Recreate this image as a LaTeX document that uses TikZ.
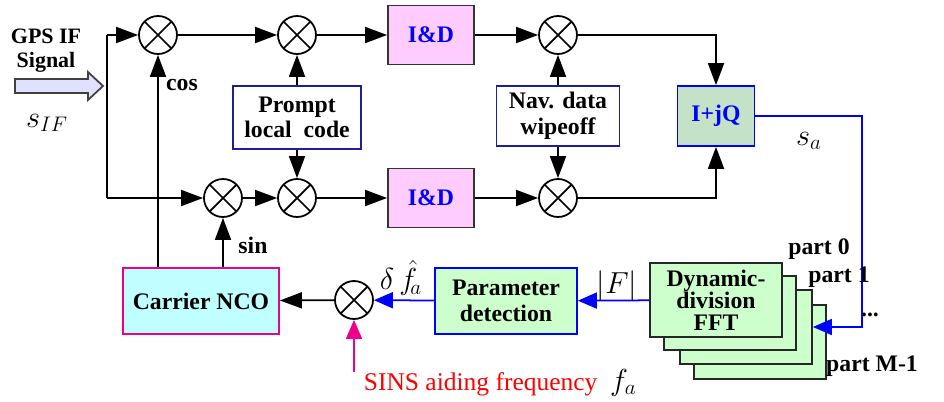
\documentclass[tikz,border=0pt]{standalone}
\usepackage{fontspec}
\setmainfont{Liberation Serif}
\usetikzlibrary{arrows.meta, calc}

\definecolor{idfill}{HTML}{FFCCFF}
\definecolor{iqfill}{HTML}{C4E2C8}
\definecolor{fftfill}{HTML}{CCFFCC}
\definecolor{ncofill}{HTML}{C0FFFF}
\definecolor{gpsfill}{HTML}{E0E0FF}
\definecolor{navyline}{HTML}{1E1E96}
\definecolor{blueline}{HTML}{0000FF}
\newcommand\blksize{\fontsize{13.5}{14.5}\selectfont}

\begin{document}
\begin{tikzpicture}[
    line width=1pt,
    arr/.style={-{Triangle[length=0.44cm,width=0.32cm]}},
    bluearr/.style={blueline,-{Triangle[length=0.38cm,width=0.32cm]}},
    pinkarr/.style={magenta,-{Triangle[length=0.38cm,width=0.32cm]}},
    mixer/.style={draw,circle,minimum size=0.76cm,inner sep=0pt,
        path picture={\draw (path picture bounding box.north west)--(path picture bounding box.south east)
                            (path picture bounding box.north east)--(path picture bounding box.south west);}},
    blk/.style={draw,align=center,font=\blksize\bfseries,inner sep=1pt},
    idbox/.style={blk,fill=idfill,draw=black!80,text=blueline,minimum width=1.72cm,minimum height=1.18cm},
    codebox/.style={blk,fill=white,draw=navyline},
    iqbox/.style={blk,fill=iqfill,draw=blueline,text=blueline,minimum width=1.54cm,minimum height=1.2cm},
    ncobox/.style={blk,fill=ncofill,draw=magenta,minimum width=3.12cm,minimum height=1.32cm},
    parbox/.style={blk,fill=fftfill,draw=blueline,minimum width=2.84cm,minimum height=1.32cm},
    fftbox/.style={blk,fill=fftfill,draw=black!85,minimum width=2.64cm,minimum height=1.48cm,
        font=\fontsize{13.5}{12.5}\selectfont\bfseries},
    lbl/.style={font=\blksize\bfseries,inner sep=0pt},
    mlbl/.style={font=\LARGE,inner sep=0pt}
  ]
  \useasboundingbox (0,0) rectangle (18.88,-8.02);

  % input signal
  \draw[fill=gpsfill,draw=black!75] (0.30,-1.58)--(1.76,-1.58)--(1.76,-1.44)--(2.06,-1.72)
        --(1.76,-2.00)--(1.76,-1.86)--(0.30,-1.86)--cycle;
  \node[lbl,align=center,font=\fontsize{12.5}{13.5}\selectfont\bfseries] (gps) at (0.92,-1.02) {GPS IF\\Signal};
  \node[mlbl] (sif) at (0.94,-2.46) {$s_{IF}$};
  \coordinate (split) at (2.14,-1.72);

  % upper branch
  \node[mixer] (m1) at (3.16,-0.70) {};
  \node[mixer] (m2) at (5.94,-0.70) {};
  \node[idbox] (id1) at (8.62,-0.70) {I\&D};
  \node[mixer] (m3) at (11.16,-0.70) {};
  \node[codebox,minimum width=2.56cm,minimum height=1.26cm] (prompt) at (5.94,-2.35) {Prompt\\local\ \ code};
  \node[codebox,minimum width=2.46cm,minimum height=1.20cm] (nav) at (11.16,-2.32) {Nav. data\\wipeoff};
  \node[iqbox] (iq) at (14.32,-2.32) {I+jQ};

  % lower branch
  \node[mixer] (m4) at (4.46,-3.96) {};
  \node[mixer] (m5) at (5.94,-3.96) {};
  \node[idbox] (id2) at (8.62,-3.96) {I\&D};
  \node[mixer] (m6) at (11.16,-3.96) {};

  % loop
  \node[ncobox] (nco) at (4.02,-6.02) {Carrier NCO};
  \node[mixer] (m7) at (7.08,-6.00) {};
  \node[parbox] (par) at (10.12,-6.02) {Parameter\\detection};
  \node[fftbox] (fft3) at (15.20,-6.84) {};
  \node[fftbox] (fft2) at (14.92,-6.54) {};
  \node[fftbox] (fft1) at (14.60,-6.26) {};
  \node[fftbox] (fft0) at (14.32,-6.00) {Dynamic-\\division\\FFT};
  \coordinate (bend) at (17.24,-2.32);
  \coordinate (sins) at (7.08,-7.44);

  \draw (split |- m1) -- (split |- m4);
  \draw[arr] (split |- m1) -- (m1);
  \draw[arr] (split |- m4) -- (m4);
  \draw[arr] (m1) -- (m2);
  \draw[arr] (m2) -- (id1);
  \draw[arr] (id1) -- (m3);
  \draw[arr] (m3) -| (iq);
  \draw[arr] (prompt) -- (m2);
  \draw[arr] (prompt) -- (m5);
  \draw[arr] (nav) -- (m3);
  \draw[arr] (nav) -- (m6);
  \draw[arr] (m4) -- (m5);
  \draw[arr] (m5) -- (id2);
  \draw[arr] (id2) -- (m6);
  \draw[arr] (m6) -| (iq);
  \draw[arr] (m1 |- nco.north) -- (m1);
  \draw[arr] (m4 |- nco.north) -- (m4);
  \draw[arr] (m7) -- (nco);
  \draw[bluearr] (par) -- (m7);
  \draw[bluearr] (fft0) -- (par);
  \draw[bluearr] (iq.east) -- (bend) -- (bend |- fft2.east) -- (fft2.east);
  \draw[pinkarr] (sins) -- (m7);

  % labels
  \node[lbl] (cos) at (3.64,-1.70) {cos};
  \node[lbl] (sin) at (5.06,-4.90) {sin};
  \node[mlbl] (sa) at (16.18,-2.82) {$s_a$};
  \node[mlbl] (absf) at (12.34,-5.72) {$|F|$};
  \node[mlbl] (df) at (8.02,-5.56) {$\delta\,\hat{f}_{\!a}$};
  \node[lbl] (dots) at (17.40,-6.30) {...};
  \node[lbl] (p0) at (16.38,-4.98) {part 0};
  \node[lbl] (p1) at (16.78,-5.54) {part 1};
  \node[lbl] (pm) at (17.44,-7.32) {part M-1};
  \node[anchor=base west,inner sep=0pt,font=\fontsize{14.5}{16}\selectfont,text=red] (sinstxt) at (7.26,-7.80)
        {SINS aiding frequency\ \ \textcolor{black}{\LARGE$f_a$}};
\end{tikzpicture}
\end{document}
